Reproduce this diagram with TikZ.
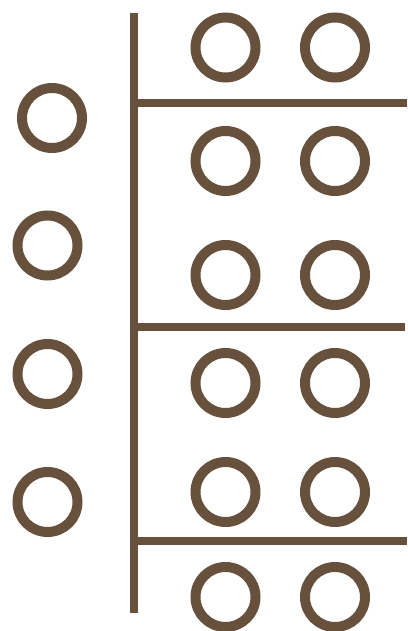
\documentclass[tikz,border=0pt]{standalone}
\definecolor{bark}{RGB}{103,81,60}
\tikzset{
  ring/.style={circle, draw=bark, line width=10pt, minimum size=60pt, inner sep=0pt},
  bar/.style={draw=bark, line width=8pt}
}
\begin{document}
\begin{tikzpicture}[x=1pt, y=-1pt, line cap=butt]
    \useasboundingbox (0,0) rectangle (407,631);
    % left column
    \node[ring] (l1) at (52,118) {};
    \foreach \n/\y in {2/245.5,3/374,4/502} \node[ring] (l\n) at (47.5,\y) {};
    % right columns
    \foreach \n/\y in {1/47.5,2/161,3/275,4/383,5/492,6/597} {
      \node[ring] (a\n) at (225.5,\y) {};
      \node[ring] (b\n) at (335,\y) {};
    }
    % bars
    \coordinate (top) at (134,13);
    \coordinate (bot) at (134,612.5);
    \draw[bar] (top) -- (bot);
    \foreach \n/\y/\e in {1/103.5/407,2/326.5/405,3/541/407} {
      \coordinate (s\n) at (138,\y);
      \coordinate (e\n) at (\e,\y);
      \draw[bar] (s\n) -- (e\n);
    }
  \end{tikzpicture}
\end{document}
